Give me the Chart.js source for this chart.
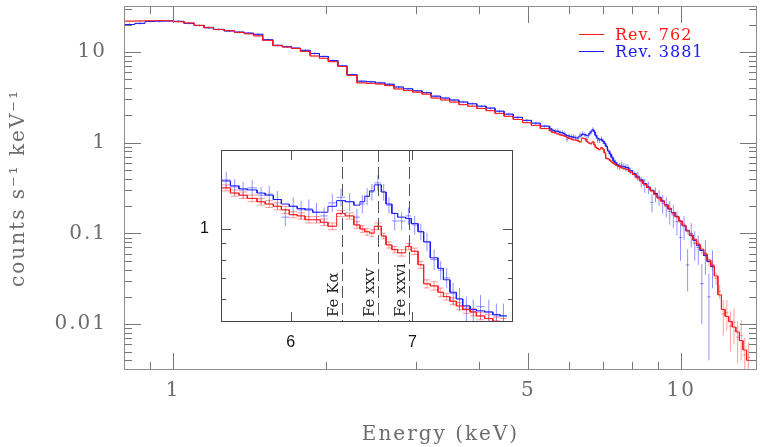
<!DOCTYPE html>
<html><head><meta charset="utf-8">
<script src="https://cdn.jsdelivr.net/npm/chart.js@4.4.1/dist/chart.umd.min.js"></script>
<style>
html,body{margin:0;padding:0;background:#fff;}
#wrap{position:relative;width:760px;height:447px;}
canvas{position:absolute;left:0;top:0;}
</style>
</head><body>
<div id="wrap"><canvas id="main" width="760" height="447"></canvas><canvas id="inset" width="760" height="447"></canvas></div>
<script>
// ---------------- DATA ----------------
const seriesNames = ['Rev. 762', 'Rev. 3881'];

// soft band 0.8-5.5 keV (bin edges, keV)
const edgesLow = [0.80,0.84,0.88,0.92,0.96,1.00,1.05,1.10,1.15,1.20,1.26,1.32,1.38,1.44,1.50,1.57,1.64,1.71,1.78,1.86,1.94,2.02,2.11,2.20,2.30,2.40,2.50,2.61,2.72,2.84,2.96,3.09,3.22,3.36,3.50,3.65,3.80,3.96,4.13,4.30,4.48,4.67,4.87,5.07,5.28,5.50];
const redLow  = [21.8,21.9,22.0,22.1,22.0,21.5,20.8,19.6,18.6,17.6,17.1,16.4,15.8,15.0,13.4,11.7,11.3,10.9,10.1,9.0,8.5,7.8,6.9,5.5,4.55,4.50,4.42,4.25,3.90,3.75,3.60,3.42,3.10,2.95,2.80,2.62,2.52,2.38,2.25,2.10,1.95,1.80,1.66,1.55,1.43];
const redLowErr = [0.4,0.4,0.35,0.35,0.35,0.3,0.3,0.3,0.3,0.25,0.25,0.25,0.2,0.2,0.2,0.18,0.18,0.16,0.15,0.14,0.13,0.12,0.11,0.09,0.08,0.08,0.07,0.07,0.06,0.06,0.06,0.055,0.05,0.05,0.045,0.045,0.04,0.04,0.04,0.035,0.035,0.03,0.03,0.03,0.03];
const blueLow = [20.0,20.6,21.6,21.8,21.9,21.7,20.6,19.5,18.4,17.7,17.0,16.5,16.1,15.6,13.6,11.8,11.4,11.0,10.4,9.6,8.9,8.0,7.0,5.6,4.75,4.68,4.55,4.40,4.10,3.92,3.72,3.55,3.25,3.10,2.95,2.80,2.68,2.52,2.40,2.22,2.06,1.90,1.76,1.64,1.52];
const blueLowErr = [0.8,0.7,0.7,0.7,0.6,0.6,0.6,0.5,0.5,0.5,0.5,0.5,0.4,0.4,0.4,0.35,0.35,0.3,0.3,0.3,0.25,0.25,0.2,0.18,0.15,0.15,0.14,0.14,0.13,0.12,0.12,0.11,0.1,0.1,0.09,0.09,0.09,0.08,0.08,0.08,0.07,0.07,0.07,0.06,0.06];

// Fe K band 5.5-7.89 keV
const edgesFe = [5.50,5.56,5.62,5.68,5.75,5.81,5.87,5.93,5.99,6.05,6.11,6.17,6.23,6.29,6.36,6.43,6.50,6.55,6.59,6.63,6.67,6.73,6.77,6.82,6.87,6.94,6.99,7.05,7.10,7.16,7.23,7.28,7.34,7.40,7.46,7.53,7.59,7.67,7.75,7.82,7.89];
const redFe = [1.35,1.30,1.28,1.25,1.22,1.20,1.18,1.15,1.11,1.10,1.07,1.07,1.05,1.02,1.12,1.10,1.03,1.00,0.98,0.97,1.02,0.95,0.89,0.86,0.84,0.88,0.85,0.77,0.67,0.66,0.63,0.61,0.59,0.57,0.555,0.545,0.53,0.52,0.51,0.505];
const redFeErr = [0.03,0.03,0.03,0.03,0.03,0.03,0.03,0.03,0.025,0.025,0.025,0.025,0.025,0.025,0.025,0.025,0.025,0.025,0.025,0.025,0.025,0.02,0.02,0.02,0.02,0.02,0.02,0.02,0.02,0.02,0.02,0.015,0.015,0.015,0.015,0.015,0.015,0.015,0.015,0.015];
const blueFe = [1.43,1.36,1.33,1.35,1.28,1.29,1.24,1.09,1.18,1.15,1.16,1.13,1.10,1.21,1.26,1.22,1.09,1.20,1.27,1.31,1.40,1.31,1.19,1.06,1.06,1.10,1.03,0.98,0.91,0.80,0.74,0.70,0.625,0.60,0.56,0.547,0.567,0.547,0.53,0.53];
const blueFeErr = [0.09,0.08,0.08,0.08,0.08,0.08,0.08,0.07,0.08,0.08,0.08,0.08,0.07,0.08,0.08,0.08,0.07,0.08,0.08,0.08,0.08,0.08,0.07,0.07,0.07,0.07,0.07,0.06,0.06,0.06,0.05,0.05,0.05,0.05,0.05,0.05,0.05,0.05,0.05,0.05];
const blueFeModel = [1.42,1.37,1.34,1.33,1.30,1.28,1.24,1.20,1.18,1.16,1.15,1.13,1.13,1.18,1.23,1.22,1.19,1.22,1.27,1.32,1.38,1.31,1.20,1.12,1.09,1.08,1.04,0.98,0.91,0.81,0.75,0.69,0.63,0.60,0.57,0.555,0.55,0.545,0.535,0.53];

// hard band 7.89-13.67 keV
const edgesHigh = [7.89,8.02,8.15,8.28,8.41,8.55,8.69,8.83,8.97,9.12,9.27,9.42,9.57,9.73,9.89,10.05,10.21,10.38,10.55,10.72,10.89,11.07,11.25,11.43,11.62,11.81,12.00,12.20,12.40,12.60,12.81,13.02,13.23,13.45,13.67];
const redHigh = [0.47,0.45,0.40,0.385,0.345,0.325,0.29,0.275,0.24,0.23,0.20,0.19,0.165,0.155,0.133,0.125,0.105,0.098,0.083,0.078,0.065,0.061,0.049,0.046,0.032,0.023,0.013,0.0135,0.0095,0.0105,0.0072,0.0075,0.0046,0.0043];
const redHighErr = [0.015,0.015,0.014,0.013,0.012,0.012,0.011,0.011,0.01,0.01,0.009,0.009,0.008,0.008,0.008,0.007,0.007,0.007,0.006,0.006,0.006,0.005,0.005,0.005,0.005,0.004,0.0055,0.005,0.0045,0.0045,0.0035,0.0035,0.0025,0.002];
const redHighModel = [0.475,0.445,0.41,0.38,0.35,0.32,0.295,0.27,0.245,0.225,0.205,0.185,0.168,0.152,0.137,0.122,0.108,0.096,0.086,0.076,0.067,0.059,0.051,0.044,0.034,0.021,0.0145,0.0122,0.0107,0.0093,0.0082,0.0066,0.0052,0.0040];
const blueHigh = [0.49,0.45,0.43,0.37,0.34,0.32,0.22,0.27,0.25,0.215,0.20,0.175,0.16,0.135,0.09,0.12,0.045,0.10,0.078,0.07,0.028,0.06,0.02,0.045,null,null,null,null,null,null,null,null,null,null];
const blueHighErr = [0.04,0.04,0.05,0.05,0.06,0.05,0.05,0.05,0.05,0.05,0.05,0.05,0.045,0.04,0.04,0.035,0.022,0.03,0.028,0.025,0.018,0.025,0.016,0.02,null,null,null,null,null,null,null,null,null,null];
const blueHighModel = [0.49,0.455,0.42,0.39,0.355,0.325,0.30,0.275,0.25,0.228,0.207,0.187,0.17,0.153,0.137,0.122,0.107,0.095,0.084,0.074,0.065,0.057,0.049,0.043,null,null,null,null,null,null,null,null,null,null];

// axes
const xTickValues = [1, 5, 10];
const xTickLabels = ['1', '5', '10'];
const xMinorTicks = [0.9, 2, 3, 4, 6, 7, 8, 9];
const yTickValues = [0.01, 0.1, 1, 10];
const yTickLabels = ['0.01', '0.1', '1', '10'];
const yMinorTicks = [0.004,0.005,0.006,0.007,0.008,0.009,0.02,0.03,0.04,0.05,0.06,0.07,0.08,0.09,0.2,0.3,0.4,0.5,0.6,0.7,0.8,0.9,2,3,4,5,6,7,8,9,20,30];
const insetXTickValues = [6, 7];
const insetXTickLabels = ['6', '7'];
const insetYTickValues = [1];
const insetYTickLabels = ['1'];
const insetYMinorTicks = [0.6, 0.7, 0.8, 0.9];
const lineEnergies = [6.4, 6.7, 6.97];
const lineLabels = ['Fe K\u03b1', 'Fe xxv', 'Fe xxvi'];

// ---------------- helpers ----------------
function steps(edges, vals) {
  const pts = [];
  for (let i = 0; i < vals.length; i++) {
    if (vals[i] == null) { pts.push({x: edges[i], y: null}); continue; }
    pts.push({x: edges[i], y: vals[i]}, {x: edges[i + 1], y: vals[i]});
  }
  return pts;
}
function crosses(edges, vals, errs, caps) {
  const pts = [];
  for (let i = 0; i < vals.length; i++) {
    if (vals[i] == null) continue;
    const lo = edges[i], hi = edges[i + 1], c = Math.sqrt(lo * hi);
    const a = vals[i] - errs[i], b = vals[i] + errs[i];
    pts.push({x: c, y: a}, {x: c, y: b}, {x: c, y: null});
    pts.push({x: lo, y: vals[i]}, {x: hi, y: vals[i]}, {x: hi, y: null});
    if (caps) {
      pts.push({x: lo, y: a}, {x: hi, y: a}, {x: hi, y: null});
      pts.push({x: lo, y: b}, {x: hi, y: b}, {x: hi, y: null});
    }
  }
  return pts;
}
function noPad(s) { s.paddingTop = 0; s.paddingBottom = 0; s.paddingLeft = 0; s.paddingRight = 0; }

const RED = '#ff1a1a', BLUE = '#1a1aff';
const RED_E = 'rgba(255,40,40,0.45)', BLUE_E = 'rgba(40,40,255,0.5)';
const TXT = '#6c6c6c';
const SERIF = "'DejaVu Serif', serif";

function ds(data, color, order) {
  return {data, borderColor: color, borderWidth: 1, pointRadius: 0, spanGaps: false, fill: false, order, tension: 0};
}

// ---------------- main chart ----------------
const redLineMain = [...steps(edgesLow, redLow), ...steps(edgesFe, redFe), ...steps(edgesHigh, redHighModel)];
const blueLineMain = [...steps(edgesLow, blueLow), ...steps(edgesFe, blueFeModel), ...steps(edgesHigh, blueHighModel)];
const redErrMain = [...crosses(edgesLow, redLow, redLowErr), ...crosses(edgesFe, redFe, redFeErr), ...crosses(edgesHigh, redHigh, redHighErr)];
const blueErrMain = [...crosses(edgesLow, blueLow, blueLowErr), ...crosses(edgesFe, blueFe, blueFeErr), ...crosses(edgesHigh, blueHigh, blueHighErr)];

const mainDecor = {
  id: 'mainDecor',
  beforeDraw(chart) { chart.ctx.letterSpacing = '2px'; },
  afterDatasetsDraw(chart) {
    const {ctx, chartArea: a, scales: {x, y}} = chart;
    ctx.save();
    ctx.letterSpacing = '0px';
    ctx.strokeStyle = '#777'; ctx.lineWidth = 1;
    ctx.beginPath();
    const vt = (v, len) => {
      const p = Math.round(x.getPixelForValue(v)) + 0.5;
      ctx.moveTo(p, a.bottom); ctx.lineTo(p, a.bottom - len);
      ctx.moveTo(p, a.top); ctx.lineTo(p, a.top + len);
    };
    const ht = (v, len) => {
      const p = Math.round(y.getPixelForValue(v)) + 0.5;
      ctx.moveTo(a.left, p); ctx.lineTo(a.left + len, p);
      ctx.moveTo(a.right, p); ctx.lineTo(a.right - len, p);
    };
    xTickValues.forEach(v => vt(v, 17));
    xMinorTicks.forEach(v => vt(v, 8));
    yTickValues.forEach(v => ht(v, 17));
    yMinorTicks.forEach(v => ht(v, 8));
    ctx.stroke();
    ctx.strokeStyle = '#8c8c8c';
    ctx.strokeRect(a.left + 0.5, a.top + 0.5, a.right - a.left - 1, a.bottom - a.top - 1);
    // legend
    ctx.letterSpacing = '1px';
    ctx.font = "16px " + SERIF;
    ctx.textBaseline = 'alphabetic';
    ctx.textAlign = 'left';
    const lx = a.right - 178, ly = a.top + 28;
    [[RED, seriesNames[0]], [BLUE, seriesNames[1]]].forEach((s, i) => {
      const yy = ly + i * 17;
      ctx.strokeStyle = s[0];
      ctx.beginPath(); ctx.moveTo(lx, yy + 0.5); ctx.lineTo(lx + 25, yy + 0.5); ctx.stroke();
      ctx.fillStyle = s[0];
      ctx.fillText(s[1], lx + 36, yy + 6);
    });
    ctx.restore();
  }
};

new Chart(document.getElementById('main'), {
  type: 'line',
  data: {datasets: [
    ds(blueErrMain, BLUE_E, 4),
    ds(redErrMain, RED_E, 3),
    ds(blueLineMain, BLUE, 2),
    ds(redLineMain, RED, 1)
  ]},
  options: {
    responsive: false, animation: false, devicePixelRatio: 1,
    layout: {padding: {top: 6, right: 3, left: 0, bottom: 0}},
    plugins: {legend: {display: false}, tooltip: {enabled: false}},
    scales: {
      x: {
        type: 'logarithmic', min: 0.8, max: 14.1,
        grid: {display: false, drawTicks: false}, border: {display: false},
        afterBuildTicks: s => { s.ticks = xTickValues.map(v => ({value: v})); },
        afterFit: s => { s.height = 77; noPad(s); },
        ticks: {autoSkip: false, maxRotation: 0, padding: 9, color: TXT, font: {family: SERIF, size: 20},
          callback: (v, i) => xTickLabels[i]},
        title: {display: true, text: 'Energy (keV)', color: TXT, font: {family: SERIF, size: 20}, padding: {top: 3, bottom: 0}}
      },
      y: {
        type: 'logarithmic', min: 0.00313, max: 32,
        grid: {display: false, drawTicks: false}, border: {display: false},
        afterBuildTicks: s => { s.ticks = yTickValues.map(v => ({value: v})); },
        afterFit: s => { s.width = 124; noPad(s); },
        ticks: {autoSkip: false, padding: 17, color: TXT, font: {family: SERIF, size: 20},
          callback: (v, i) => yTickLabels[i]},
        title: {display: true, text: 'counts s\u207b\u00b9 keV\u207b\u00b9', color: TXT, font: {family: SERIF, size: 20}, padding: {top: 7, bottom: 0}}
      }
    }
  },
  plugins: [mainDecor]
});

// ---------------- inset chart ----------------
const insetDecor = {
  id: 'insetDecor',
  beforeDraw(chart) {
    const {ctx, chartArea: a} = chart;
    ctx.save(); ctx.fillStyle = '#fff';
    ctx.fillRect(a.left, a.top, a.right - a.left, a.bottom - a.top);
    ctx.restore();
  },
  beforeDatasetsDraw(chart) {
    const {ctx, chartArea: a, scales: {x}} = chart;
    ctx.save();
    ctx.strokeStyle = '#555'; ctx.lineWidth = 1; ctx.setLineDash([12, 5]);
    lineEnergies.forEach(e => {
      const p = Math.round(x.getPixelForValue(e)) + 0.5;
      ctx.beginPath(); ctx.moveTo(p, a.top); ctx.lineTo(p, a.bottom); ctx.stroke();
    });
    ctx.setLineDash([]);
    ctx.fillStyle = '#222'; ctx.font = "15px " + SERIF;
    ctx.textAlign = 'left'; ctx.textBaseline = 'middle';
    lineEnergies.forEach((e, i) => {
      const p = x.getPixelForValue(e) - 8;
      ctx.save(); ctx.translate(p, a.bottom - 5); ctx.rotate(-Math.PI / 2);
      ctx.fillText(lineLabels[i], 0, 0); ctx.restore();
    });
    ctx.restore();
  },
  afterDatasetsDraw(chart) {
    const {ctx, chartArea: a, scales: {x, y}} = chart;
    ctx.save();
    ctx.strokeStyle = '#555'; ctx.lineWidth = 1;
    ctx.beginPath();
    const ht = (v, len) => {
      const p = Math.round(y.getPixelForValue(v)) + 0.5;
      ctx.moveTo(a.left, p); ctx.lineTo(a.left + len, p);
      ctx.moveTo(a.right, p); ctx.lineTo(a.right - len, p);
    };
    insetYTickValues.forEach(v => ht(v, 10));
    insetYMinorTicks.forEach(v => ht(v, 5));
    insetXTickValues.forEach(v => {
      const p = Math.round(x.getPixelForValue(v)) + 0.5;
      ctx.moveTo(p, a.bottom); ctx.lineTo(p, a.bottom - 10);
      ctx.moveTo(p, a.top); ctx.lineTo(p, a.top + 10);
    });
    ctx.stroke();
    ctx.strokeStyle = '#444';
    ctx.strokeRect(a.left + 0.5, a.top + 0.5, a.right - a.left - 1, a.bottom - a.top - 1);
    ctx.restore();
  }
};

new Chart(document.getElementById('inset'), {
  type: 'line',
  data: {datasets: [
    ds(crosses(edgesFe, blueFe, blueFeErr), BLUE_E, 4),
    ds(crosses(edgesFe, redFe, redFeErr, true), RED_E, 3),
    ds(steps(edgesFe, blueFeModel), BLUE, 2),
    ds(steps(edgesFe, redFe), RED, 1)
  ]},
  options: {
    responsive: false, animation: false, devicePixelRatio: 1,
    layout: {padding: {top: 150, right: 247, left: 0, bottom: 0}},
    plugins: {legend: {display: false}, tooltip: {enabled: false}},
    scales: {
      x: {
        type: 'logarithmic', min: 5.494, max: 7.95,
        grid: {display: false, drawTicks: false}, border: {display: false},
        afterBuildTicks: s => { s.ticks = insetXTickValues.map(v => ({value: v})); },
        afterFit: s => { s.height = 125; noPad(s); },
        ticks: {autoSkip: false, maxRotation: 0, padding: 11, color: '#111', font: {family: "'Liberation Sans', sans-serif", size: 16},
          callback: (v, i) => insetXTickLabels[i]}
      },
      y: {
        type: 'logarithmic', min: 0.507, max: 1.78,
        grid: {display: false, drawTicks: false}, border: {display: false},
        afterBuildTicks: s => { s.ticks = insetYTickValues.map(v => ({value: v})); },
        afterFit: s => { s.width = 221; noPad(s); },
        ticks: {autoSkip: false, padding: 12, color: '#111', font: {family: "'Liberation Sans', sans-serif", size: 16},
          callback: (v, i) => insetYTickLabels[i]}
      }
    }
  },
  plugins: [insetDecor]
});
</script>
</body></html>
